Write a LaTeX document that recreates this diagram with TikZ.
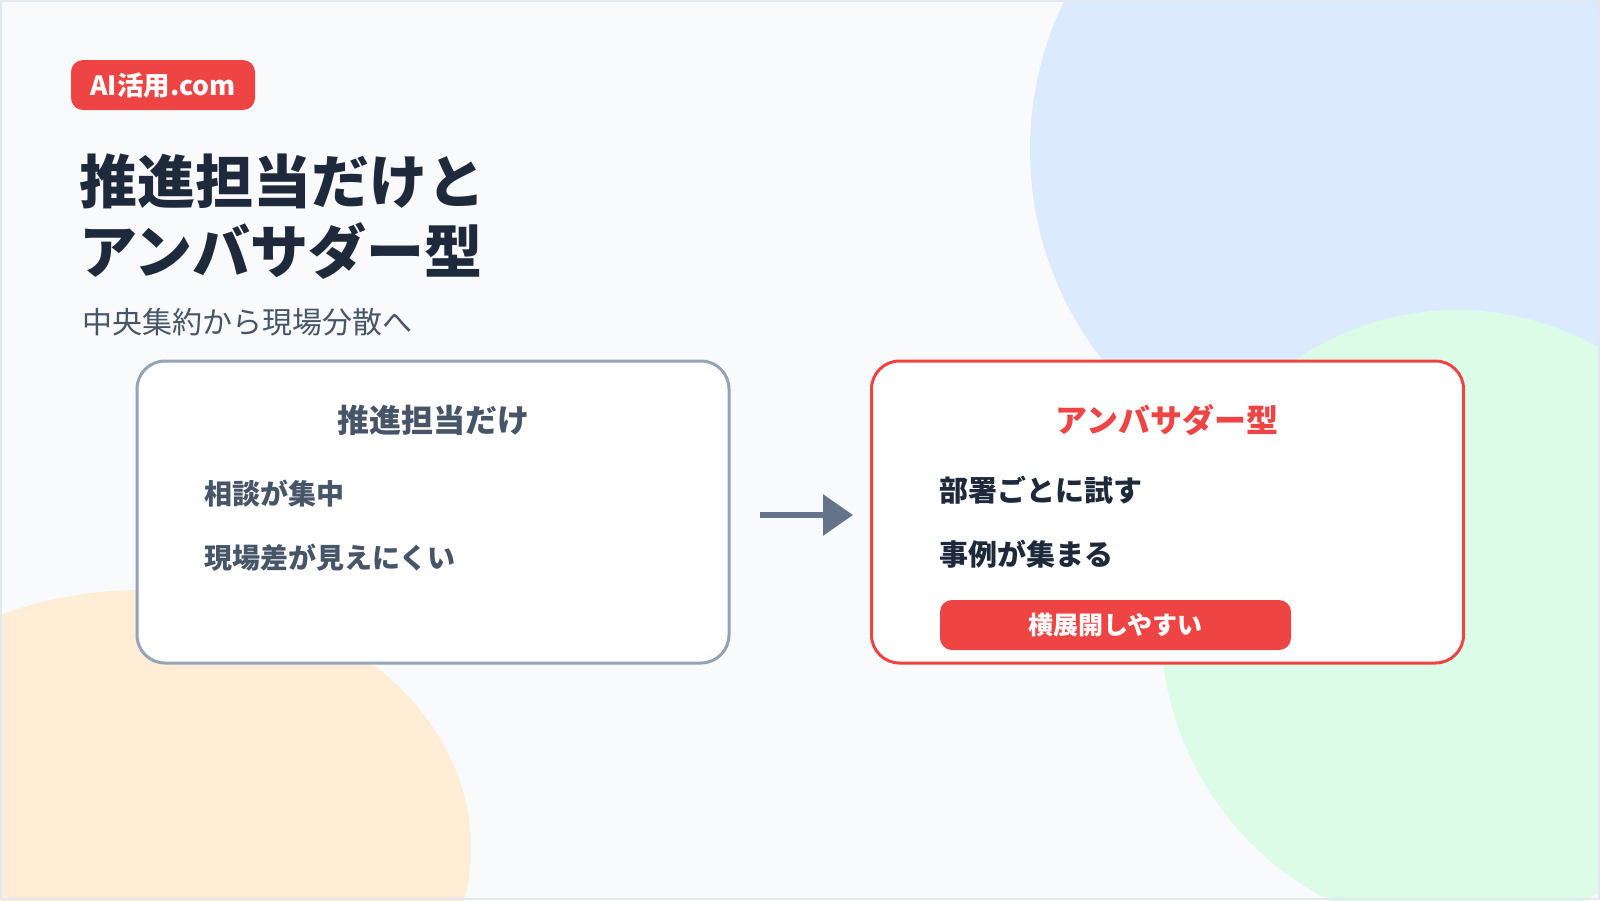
\documentclass[tikz,border=0pt]{standalone}
\usepackage{fontspec}
\setmainfont{Noto Sans CJK JP}
\usetikzlibrary{arrows.meta}
\definecolor{bgc}{HTML}{F8FAFC}
\definecolor{framec}{HTML}{E2E8F0}
\definecolor{bluec}{HTML}{DBEAFE}
\definecolor{greenc}{HTML}{DCFCE7}
\definecolor{orangec}{HTML}{FFEDD5}
\definecolor{redc}{HTML}{EF4444}
\definecolor{darkc}{HTML}{1E293B}
\definecolor{slatec}{HTML}{475569}
\definecolor{greyborder}{HTML}{94A3B8}
\definecolor{arrowc}{HTML}{64748B}
\tikzset{
  panel/.style={draw, line width=3pt, fill=white, rounded corners=28pt, minimum width=592pt, minimum height=302pt, inner sep=0pt},
  pill/.style={fill=redc, rounded corners=12pt, text=white, font=\bfseries, inner sep=0pt},
  boxtitle/.style={font=\fontsize{32}{36}\selectfont\bfseries, inner sep=0pt},
  item/.style={anchor=west, inner sep=0pt, font=\fontsize{28}{32}\selectfont\bfseries},
  bigtitle/.style={anchor=west, inner sep=0pt, text=darkc, font=\fontsize{58}{62}\selectfont\bfseries},
  flowarrow/.style={draw=arrowc, line width=6pt, -{Triangle[length=30pt,width=40pt]}}
}
\begin{document}
\begin{tikzpicture}[x=1pt,y=-1pt]
\useasboundingbox (0,0) rectangle (1600,900);
\fill[bgc] (0,0) rectangle (1600,900);
\begin{scope}
\clip (0,0) rectangle (1600,900);
\fill[bluec] (1370,150) circle (340pt);
\fill[greenc] (1457,620) ellipse [x radius=297pt, y radius=310pt];
\fill[orangec] (142,848) ellipse [x radius=329pt, y radius=258pt];
\end{scope}
\draw[framec, line width=2pt] (1,1) rectangle (1599,899);

\node[pill, minimum width=184pt, minimum height=50pt, font=\fontsize{26.5}{30}\selectfont\bfseries] (badge) at (163,85) {AI活用.com};

\node[bigtitle] (t1) at (79,181) {推進担当だけと};
\node[bigtitle] (t2) at (79,251) {アンバサダー型};
\node[anchor=west, inner sep=0pt, text=slatec, font=\fontsize{30}{34}\selectfont] (sub) at (82,322) {中央集約から現場分散へ};

\node[panel, draw=greyborder] (left) at (433,512) {};
\node[boxtitle, text=slatec] (lt) at (433,420) {推進担当だけ};
\node[item, text=slatec] (l1) at (204,494) {相談が集中};
\node[item, text=slatec] (l2) at (204,558) {現場差が見えにくい};

\node[panel, draw=redc] (right) at (1167.5,512) {};
\node[boxtitle, text=redc] (rt) at (1167,420) {アンバサダー型};
\node[item, text=darkc, font=\fontsize{29}{33}\selectfont\bfseries] (r1) at (939,490) {部署ごとに試す};
\node[item, text=darkc, font=\fontsize{29}{33}\selectfont\bfseries] (r2) at (939,554) {事例が集まる};
\node[pill, minimum width=351pt, minimum height=50pt, font=\fontsize{25}{29}\selectfont\bfseries] (hl) at (1115.5,625) {横展開しやすい};

\draw[flowarrow, shorten <=29pt, shorten >=17pt] ([yshift=-3pt]left.east) -- ([yshift=-3pt]right.west);
\end{tikzpicture}
\end{document}
